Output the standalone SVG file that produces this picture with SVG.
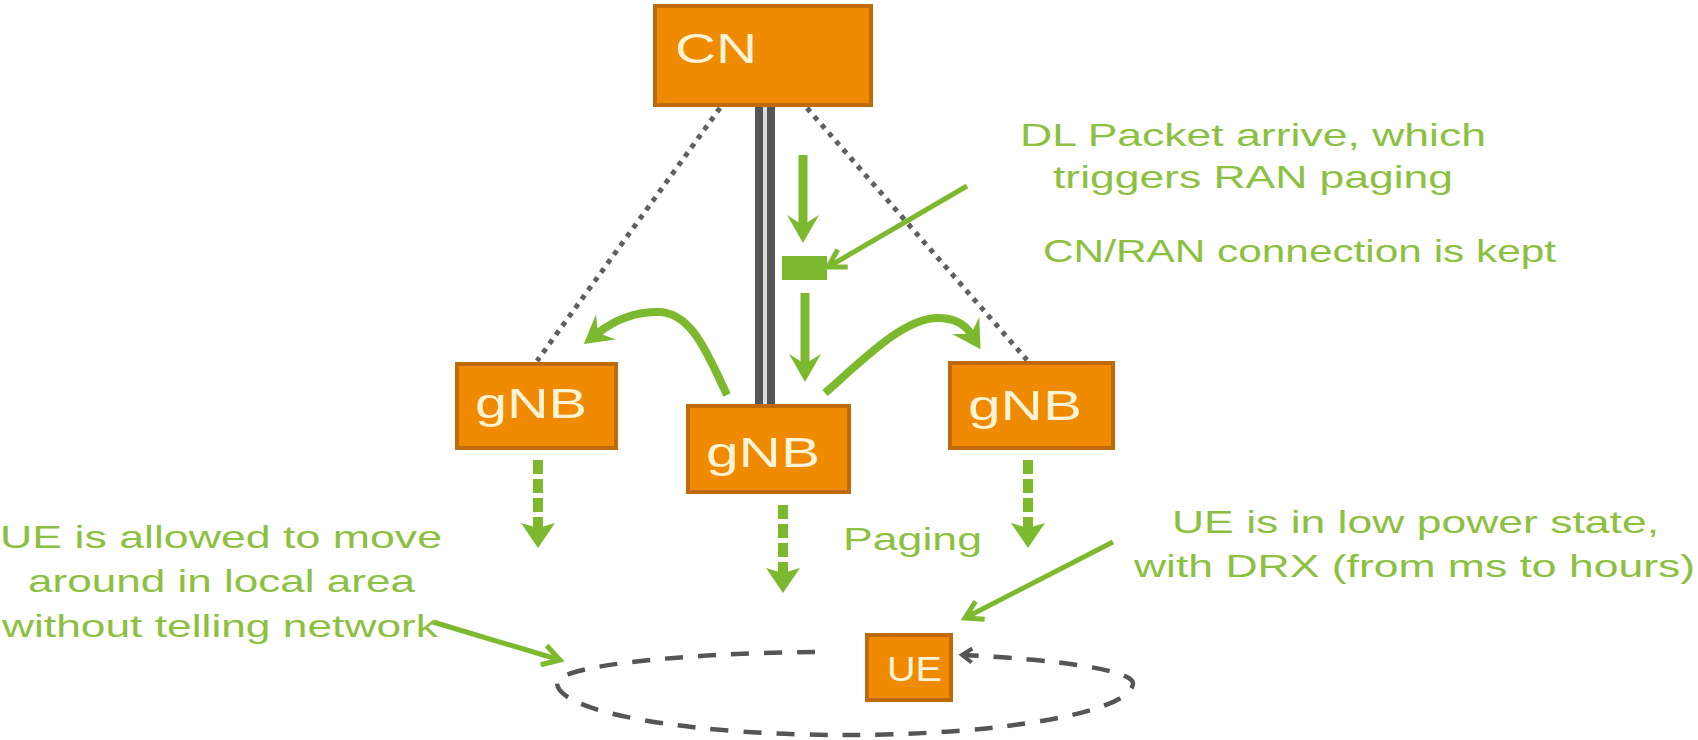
<svg xmlns="http://www.w3.org/2000/svg" width="1698" height="740" viewBox="0 0 1698 740">
<style>
.box{fill:#F08A00;stroke:#BF6A0C;stroke-width:4}
.bt{font-family:"Liberation Sans",Arial,sans-serif;fill:#FFF3D6}
.gt{font-family:"Liberation Sans",Arial,sans-serif;fill:#8CC040;font-size:32px}
.dot{stroke:#5f5f5f;stroke-width:5;stroke-dasharray:5 6;fill:none}
.gs{stroke:#7DB92E;fill:none}
.gd{stroke:#7DB92E;stroke-width:10;stroke-dasharray:14 5;fill:none}
</style>
<defs>
<marker id="big" markerUnits="userSpaceOnUse" markerWidth="40" markerHeight="40" refX="10" refY="0" viewBox="0 -20 30 40" orient="auto" overflow="visible">
<path d="M28,0 L0,-16 L10,0 L0,16 Z" fill="#7DB92E"/>
</marker>
<marker id="tri" markerUnits="userSpaceOnUse" markerWidth="40" markerHeight="40" refX="5" refY="0" viewBox="0 -20 30 40" orient="auto" overflow="visible">
<path d="M25,0 L0,-17 L5,0 L0,17 Z" fill="#7DB92E"/>
</marker>
<marker id="open" markerUnits="userSpaceOnUse" markerWidth="30" markerHeight="30" refX="0" refY="0" viewBox="-20 -15 25 30" orient="auto" overflow="visible">
<path d="M-17,-10 L0,0 L-17,10" fill="none" stroke="#7DB92E" stroke-width="5"/>
</marker>
<marker id="gray" markerUnits="userSpaceOnUse" markerWidth="20" markerHeight="20" refX="0" refY="0" viewBox="-15 -10 20 20" orient="auto" overflow="visible">
<path d="M-10,-7 L0,0 L-10,7" fill="none" stroke="#555" stroke-width="4"/>
</marker>
</defs>

<g id="connectors">
<line class="dot" x1="720" y1="108" x2="537" y2="361"/>
<line class="dot" x1="807" y1="108" x2="1027" y2="360"/>
<rect x="755" y="107" width="20" height="298" fill="#555"/>
<line x1="765" y1="107" x2="765" y2="405" stroke="#ddd" stroke-width="4"/>
<line class="gs" stroke-width="9" x1="803" y1="155" x2="803" y2="225" marker-end="url(#big)"/>
<rect x="782" y="256" width="45" height="24" fill="#7DB92E"/>
<line class="gs" stroke-width="9" x1="805" y1="293" x2="805" y2="364" marker-end="url(#big)"/>
<line class="gs" stroke-width="5" x1="967" y1="186" x2="828" y2="267" marker-end="url(#open)"/>
<path class="gs" stroke-width="8" d="M727,395 C708,355 692,312 658,312 C632,312 612,322 598,333" marker-end="url(#big)"/>
<path class="gs" stroke-width="8" d="M825,393 C868,355 905,318 938,318 C956,318 966,326 971,334" marker-end="url(#big)"/>
<line class="gd" x1="538" y1="460" x2="538" y2="528" marker-end="url(#tri)"/>
<line class="gd" x1="783" y1="505" x2="783" y2="573" marker-end="url(#tri)"/>
<line class="gd" x1="1028" y1="460" x2="1028" y2="528" marker-end="url(#tri)"/>
<line class="gs" stroke-width="5" x1="433" y1="622" x2="560" y2="660" marker-end="url(#open)"/>
<line class="gs" stroke-width="5" x1="1113" y1="542" x2="965" y2="618" marker-end="url(#open)"/>
<path d="M815,652 A288,31 0 0 0 557,683 A288,52 0 0 0 1133,683 A288,31 0 0 0 962,655" fill="none" stroke="#555" stroke-width="4.5" stroke-dasharray="18 15" marker-end="url(#gray)"/>
</g>

<g id="cn">
<rect class="box" x="655" y="6" width="216" height="99"/>
<text class="bt" x="675" y="63" font-size="43" textLength="82" lengthAdjust="spacingAndGlyphs">CN</text>
</g>
<g id="gnb-left">
<rect class="box" x="457" y="364" width="159" height="84"/>
<text class="bt" x="475" y="418" font-size="42" textLength="112" lengthAdjust="spacingAndGlyphs">gNB</text>
</g>
<g id="gnb-mid">
<rect class="box" x="688" y="406" width="161" height="86"/>
<text class="bt" x="706" y="467" font-size="42" textLength="114" lengthAdjust="spacingAndGlyphs">gNB</text>
</g>
<g id="gnb-right">
<rect class="box" x="950" y="363" width="163" height="85"/>
<text class="bt" x="968" y="420" font-size="42" textLength="114" lengthAdjust="spacingAndGlyphs">gNB</text>
</g>
<g id="ue">
<rect class="box" x="867" y="635" width="84" height="65"/>
<text class="bt" x="887" y="681" font-size="35" textLength="55" lengthAdjust="spacingAndGlyphs">UE</text>
</g>

<g id="labels">
<text class="gt" x="1020" y="146" textLength="466" lengthAdjust="spacingAndGlyphs">DL Packet arrive, which</text>
<text class="gt" x="1053" y="188" textLength="400" lengthAdjust="spacingAndGlyphs">triggers RAN paging</text>
<text class="gt" x="1043" y="262" textLength="513" lengthAdjust="spacingAndGlyphs">CN/RAN connection is kept</text>
<text class="gt" x="843" y="550" textLength="139" lengthAdjust="spacingAndGlyphs">Paging</text>
<text class="gt" x="1172" y="533" textLength="487" lengthAdjust="spacingAndGlyphs">UE is in low power state,</text>
<text class="gt" x="1134" y="577" textLength="561" lengthAdjust="spacingAndGlyphs">with DRX (from ms to hours)</text>
<text class="gt" x="0" y="548" textLength="442" lengthAdjust="spacingAndGlyphs">UE is allowed to move</text>
<text class="gt" x="28" y="592" textLength="387" lengthAdjust="spacingAndGlyphs">around in local area</text>
<text class="gt" x="2" y="637" textLength="436" lengthAdjust="spacingAndGlyphs">without telling network</text>
</g>
</svg>
